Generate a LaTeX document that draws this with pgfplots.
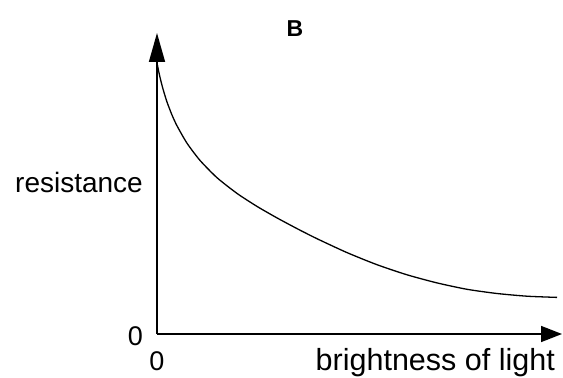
\documentclass[border=0pt]{standalone}
\usepackage{pgfplots}
\pgfplotsset{compat=1.18}
\usetikzlibrary{arrows.meta}
\usepackage{fontspec}
\setmainfont{Liberation Sans}
\newfontfamily\titlefont{Liberation Sans Bold}

\begin{document}
\begin{tikzpicture}
\fontsize{27bp}{31bp}\selectfont
\begin{axis}[
    at={(0,0)}, anchor=origin,
    scale only axis,
    width=405bp, height=301bp,
    xmin=0, xmax=405,
    ymin=0, ymax=301,
    axis lines=left,
    x axis line style={line width=1.6bp, -{Triangle[length=21bp,width=16bp]}},
    y axis line style={line width=1.6bp, -{Triangle[length=29bp,width=16bp]}},
    xtick=\empty, ytick=\empty,
    clip=false,
]
\addplot[line width=1.3bp, smooth, tension=0.4] coordinates {
    (0.5,269) (1,266) (3,256.7) (6,245) (10,232) (15,219) (20,208.2)
    (30,190.8) (43,173.6) (60,156.3) (80,140.6) (100,127.6) (120,116.1)
    (140,105.4) (160,95.3) (190,81.4) (220,69.3) (250,59.2) (280,51.1)
    (310,44.7) (340,40.5) (370,37.8) (400,36.6)};
% labels
\node[anchor=base, inner sep=0pt] at (axis cs:138,297)
    {\titlefont\fontsize{23bp}{26bp}\selectfont B};
\node[anchor=east, inner sep=0pt] at ([xshift=-14bp]axis cs:0,152)
    {\fontsize{28bp}{32bp}\selectfont resistance};
\node[anchor=base east, inner sep=0pt] at ([xshift=-14bp,yshift=-11bp]axis cs:0,0) {0};
\node[anchor=base, inner sep=0pt] at ([yshift=-36bp]axis cs:0,0) {0};
\node[anchor=base east, inner sep=0pt] at ([yshift=-36bp]axis cs:398,0)
    {\fontsize{30.5bp}{34bp}\selectfont brightness of light};
\end{axis}
\pgfresetboundingbox
\path (-157bp,-44bp) rectangle (406bp,334bp);
\end{tikzpicture}
\end{document}
